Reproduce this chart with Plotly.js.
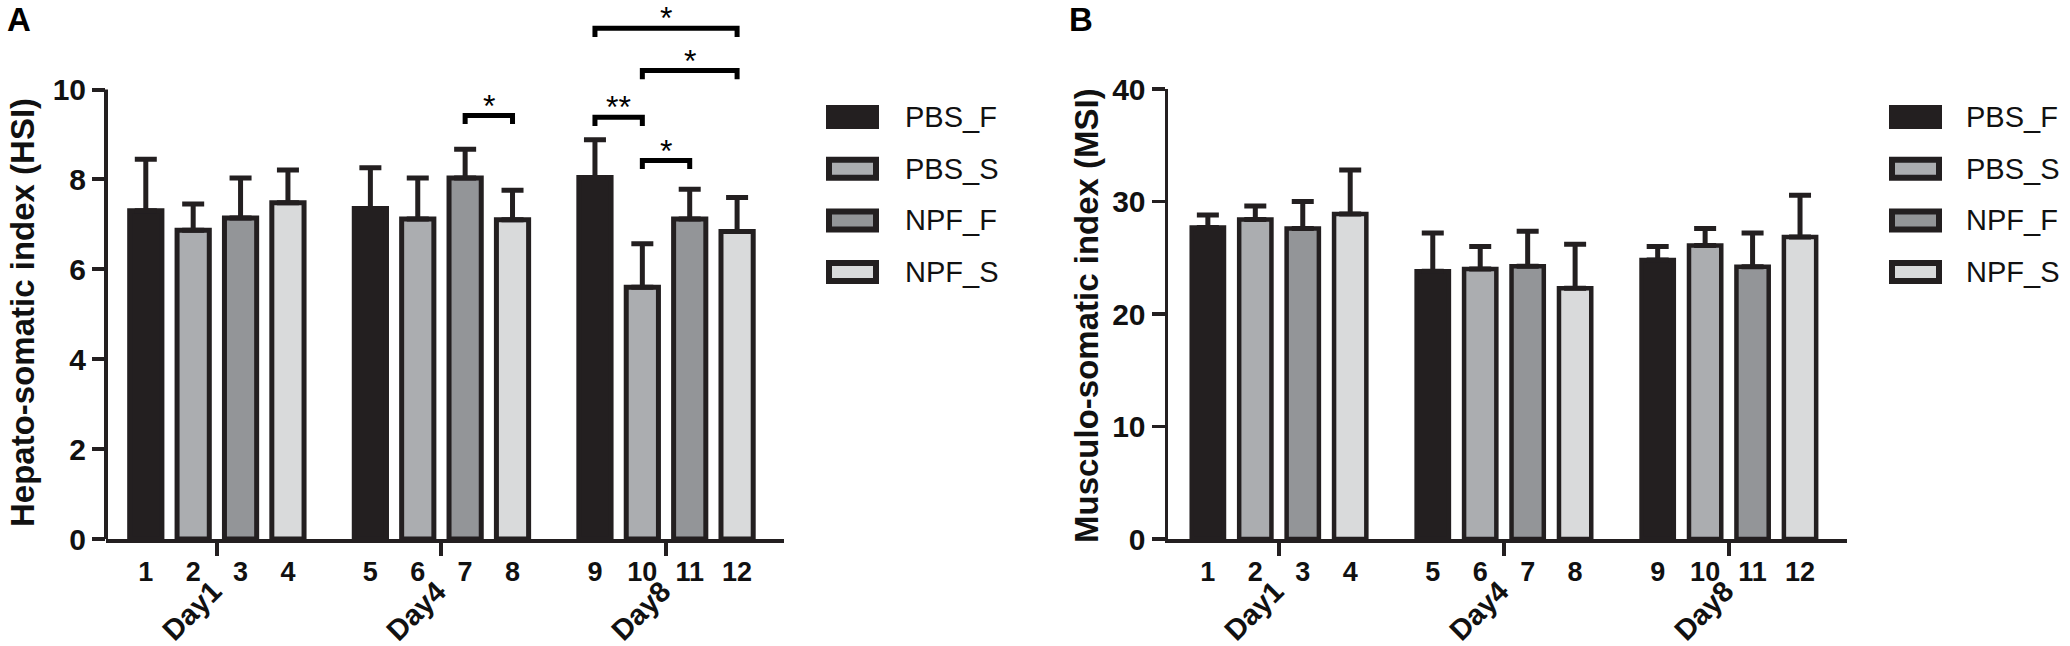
<!DOCTYPE html>
<html>
<head>
<meta charset="utf-8">
<script src="https://cdn.plot.ly/plotly-3.0.1.min.js"></script>
<style>
  body { margin: 0; background: #fff; }
  #chart { width: 2070px; height: 646px; }
</style>
</head>
<body>
<div id="chart"></div>
<script>
// groups, series and bar numbers
var days = ['Day1', 'Day4', 'Day8'];
var seriesNames = ['PBS_F', 'PBS_S', 'NPF_F', 'NPF_S'];
var seriesColors = ['#231f20', '#abadb0', '#939598', '#d9dadb'];
var barLabels = ['1', '2', '3', '4', '5', '6', '7', '8', '9', '10', '11', '12'];

// hepato-somatic index (HSI), mean per day
var hsiPBS_F = [7.30, 7.35, 8.04];
var hsiPBS_S = [6.87, 7.12, 5.60];
var hsiNPF_F = [7.14, 8.03, 7.12];
var hsiNPF_S = [7.48, 7.10, 6.84];
// HSI error (upper bar only)
var hsiErrPBS_F = [1.15, 0.91, 0.84];
var hsiErrPBS_S = [0.58, 0.91, 0.97];
var hsiErrNPF_F = [0.89, 0.64, 0.66];
var hsiErrNPF_S = [0.73, 0.66, 0.76];

// musculo-somatic index (MSI), mean per day
var msiPBS_F = [27.7, 23.8, 24.8];
var msiPBS_S = [28.4, 24.0, 26.1];
var msiNPF_F = [27.6, 24.25, 24.2];
var msiNPF_S = [28.9, 22.3, 26.85];
// MSI error (upper bar only)
var msiErrPBS_F = [1.1, 3.4, 1.2];
var msiErrPBS_S = [1.2, 2.0, 1.5];
var msiErrNPF_F = [2.4, 3.1, 3.0];
var msiErrNPF_S = [3.9, 3.9, 3.7];

// significance brackets on HSI (bar numbers, label, bracket height)
var sigFrom = [7, 9, 10, 10, 9];
var sigTo = [8, 10, 11, 12, 12];
var sigText = ['*', '**', '*', '*', '*'];
var sigLevel = [9.42, 9.38, 8.42, 10.42, 11.36];

var hsiVals = [hsiPBS_F, hsiPBS_S, hsiNPF_F, hsiNPF_S];
var hsiErrs = [hsiErrPBS_F, hsiErrPBS_S, hsiErrNPF_F, hsiErrNPF_S];
var msiVals = [msiPBS_F, msiPBS_S, msiNPF_F, msiNPF_S];
var msiErrs = [msiErrPBS_F, msiErrPBS_S, msiErrNPF_F, msiErrNPF_S];

var groupStep = 4.74;
var ink = '#231f20';
var font = 'Liberation Sans, Arial, sans-serif';
var W = 2070, plotH = 539;

// bar number (1-based) -> x position
function barPos(n) {
  var g = Math.floor((n - 1) / 4), s = (n - 1) % 4;
  return g * groupStep + s;
}
var allPos = barLabels.map(function (l, i) { return barPos(i + 1); });
var dayPos = days.map(function (d, g) { return g * groupStep + 1.5; });

function px(x) { return x / W; }
function py(y) { return (plotH - y) / plotH; }

var data = [];
function addBars(vals, errs, xa, ya, lw) {
  seriesNames.forEach(function (name, s) {
    data.push({
      type: 'bar',
      name: name,
      x: days.map(function (d, g) { return g * groupStep + s; }),
      y: vals[s],
      width: 0.68,
      xaxis: xa,
      yaxis: ya,
      showlegend: false,
      hoverinfo: 'skip',
      marker: { color: seriesColors[s], line: { color: ink, width: lw } },
      error_y: {
        type: 'data', symmetric: false,
        array: errs[s],
        arrayminus: errs[s].map(function () { return 0; }),
        color: ink, thickness: 5, width: 11
      }
    });
  });
  // empty carrier so the day tick axis gets drawn
  data.push({
    type: 'scatter', mode: 'markers', x: dayPos, y: dayPos.map(function () { return 0; }),
    xaxis: xa === 'x' ? 'x3' : 'x4', yaxis: ya,
    marker: { opacity: 0, size: 1 }, showlegend: false, hoverinfo: 'skip'
  });
}
addBars(hsiVals, hsiErrs, 'x', 'y', 5);
addBars(msiVals, msiErrs, 'x2', 'y2', 4.5);

var tickFontNum = { family: font, size: 27, weight: 'bold', color: '#111' };
var tickFontY = { family: font, size: 30, weight: 'bold', color: '#111' };

function numAxis(domain, anchor, lw) {
  return {
    domain: domain, anchor: anchor, range: [-0.84, 13.47],
    tickmode: 'array', tickvals: allPos, ticktext: barLabels,
    ticks: '', showline: true, linewidth: lw, linecolor: ink,
    showgrid: false, zeroline: false, fixedrange: true,
    tickfont: tickFontNum, ticklabelstandoff: 6
  };
}
function dayAxis(over, anchor) {
  return {
    overlaying: over, anchor: anchor, side: 'bottom', range: [-0.84, 13.47],
    tickmode: 'array', tickvals: dayPos, showticklabels: false,
    ticks: 'outside', ticklen: 16, tickwidth: 4, tickcolor: ink,
    showline: false, showgrid: false, zeroline: false
  };
}

var domA = [px(106), px(784)];
var domB = [px(1168), px(1847)];

var shapes = [];
// HSI y axis line stops at 10 (room above for brackets)
shapes.push({ type: 'line', xref: 'paper', yref: 'y', x0: domA[0], x1: domA[0], y0: 0, y1: 10,
  line: { color: ink, width: 4 } });

var annotations = [];
// significance brackets
var drop = 0.19;
sigFrom.forEach(function (f, i) {
  var x0 = barPos(f), x1 = barPos(sigTo[i]), y = sigLevel[i];
  shapes.push({
    type: 'path', xref: 'x', yref: 'y',
    path: 'M' + x0 + ',' + (y - drop) + ' L' + x0 + ',' + y + ' L' + x1 + ',' + y + ' L' + x1 + ',' + (y - drop),
    line: { color: '#000', width: 5 }
  });
  annotations.push({
    xref: 'x', yref: 'y', x: (x0 + x1) / 2, y: y, yanchor: 'bottom', yshift: -9,
    text: sigText[i], showarrow: false, borderpad: 0,
    font: { family: font, size: 32, color: '#000' }
  });
});

// rotated day labels hanging off the day ticks
['x', 'x2'].forEach(function (xa) {
  days.forEach(function (d, g) {
    annotations.push({
      xref: xa, yref: 'paper', x: dayPos[g], y: py(572), xanchor: 'right', yanchor: 'top',
      xshift: 13, textangle: -45, text: d, showarrow: false,
      font: { family: font, size: 29, weight: 'bold', color: '#111' }
    });
  });
});

// legends
function addLegend(boxL, textL) {
  seriesNames.forEach(function (name, s) {
    var yc = 117 + s * 51.7;
    shapes.push({
      type: 'rect', xref: 'paper', yref: 'paper',
      x0: px(boxL + 3), x1: px(boxL + 50), y0: py(yc - 9), y1: py(yc + 9),
      fillcolor: seriesColors[s], line: { color: ink, width: 6 }
    });
    annotations.push({
      xref: 'paper', yref: 'paper', x: px(textL), y: py(yc), xanchor: 'left', yanchor: 'middle',
      text: name, showarrow: false, font: { family: font, size: 29, color: '#111' }
    });
  });
}
addLegend(826, 903);
addLegend(1889, 1964);

// panel letters and y titles
annotations.push({ xref: 'paper', yref: 'paper', x: px(5), y: py(20), xanchor: 'left', yanchor: 'middle',
  text: 'A', showarrow: false, font: { family: font, size: 33, weight: 'bold', color: '#000' } });
annotations.push({ xref: 'paper', yref: 'paper', x: px(1067), y: py(20), xanchor: 'left', yanchor: 'middle',
  text: 'B', showarrow: false, font: { family: font, size: 33, weight: 'bold', color: '#000' } });
annotations.push({ xref: 'paper', yref: 'paper', x: px(22), y: py(313), xanchor: 'center', yanchor: 'middle',
  textangle: -90, text: 'Hepato-somatic index (HSI)', showarrow: false,
  font: { family: font, size: 33, weight: 'bold', color: '#111' } });
annotations.push({ xref: 'paper', yref: 'paper', x: px(1086), y: py(316), xanchor: 'center', yanchor: 'middle',
  textangle: -90, text: 'Musculo-somatic index (MSI)', showarrow: false,
  font: { family: font, size: 33, weight: 'bold', color: '#111' } });

var layout = {
  width: W, height: 646,
  margin: { l: 0, r: 0, t: 0, b: 107 },
  paper_bgcolor: '#fff', plot_bgcolor: 'rgba(0,0,0,0)',
  barmode: 'overlay',
  showlegend: false,
  xaxis: numAxis(domA, 'y', 4),
  xaxis3: dayAxis('x', 'y'),
  yaxis: {
    domain: [0, 1], anchor: 'x', range: [0, plotH / 44.95],
    tickmode: 'array', tickvals: [0, 2, 4, 6, 8, 10],
    ticks: 'outside', ticklen: 13, tickwidth: 4, tickcolor: ink,
    showline: false, showgrid: false, zeroline: false, tickfont: tickFontY
  },
  xaxis2: numAxis(domB, 'y2', 3.5),
  xaxis4: dayAxis('x2', 'y2'),
  yaxis2: {
    domain: [0, py(89)], anchor: 'x2', range: [0, 40],
    tickmode: 'array', tickvals: [0, 10, 20, 30, 40],
    ticks: 'outside', ticklen: 13, tickwidth: 3.5, tickcolor: ink,
    showline: true, linewidth: 3.5, linecolor: ink,
    showgrid: false, zeroline: false, tickfont: tickFontY
  },
  shapes: shapes,
  annotations: annotations
};

Plotly.newPlot('chart', data, layout, { displayModeBar: false, staticPlot: true });
</script>
</body>
</html>
